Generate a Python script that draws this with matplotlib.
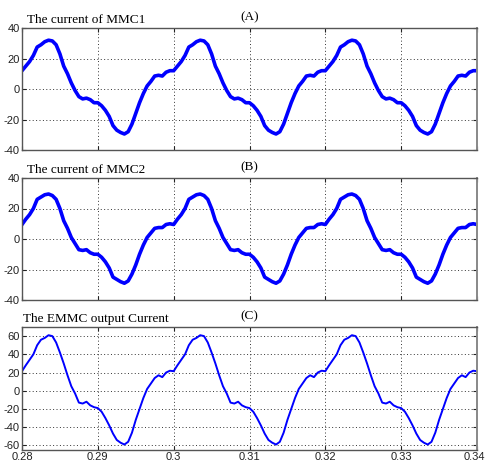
import numpy as np
import matplotlib
matplotlib.use("Agg")
import matplotlib.pyplot as plt

plt.rcParams['axes.unicode_minus'] = False

# time axis (s), sampled every 0.5 ms
t = np.round(np.arange(0.28, 0.34 + 1e-9, 0.0005), 4)

# one period, repeated three times as drawn
mmc1_period = [12, 15, 18, 22, 27.5, 29, 31, 32, 31.5, 29,
               23, 15, 10, 4, -1, -5, -6.5, -6, -7, -9,
               -9, -11, -14, -18, -24, -27, -28.5, -29.5, -28, -23,
               -16, -9, -3, 2, 5, 8.5, 9, 8.5, 11, 12]
mmc2_period = [9.5, 13, 16, 20, 26, 27.5, 29, 29.5, 28.5, 26,
               20, 12, 7, 1, -3, -7, -7.5, -7, -9, -10,
               -10, -12, -15, -19, -25, -26.5, -28, -29, -27.5, -23,
               -17, -10, -4, 1, 4, 7, 7.5, 7.5, 9.5, 10]
emmc_period = [21.5, 28, 34, 40, 50, 56, 58, 61, 60, 53,
               42, 30, 17, 5, -3, -13, -14, -12, -16, -18,
               -19, -23, -30, -38, -47, -54, -57, -59, -56, -46,
               -32, -20, -8, 2, 8, 14, 17, 15, 20, 22]

mmc1 = mmc1_period * 3 + [12]
mmc2 = mmc2_period * 3 + [9.5]
emmc = emmc_period * 3 + [21.5]

titles = ["The current of MMC1", "The current of MMC2", "The EMMC output Current"]
tags = ["(A)", "(B)", "(C)"]
xticks = [0.28, 0.29, 0.3, 0.31, 0.32, 0.33, 0.34]
xticklabels = ["0.28", "0.29", "0.3", "0.31", "0.32", "0.33", "0.34"]

fig = plt.figure(figsize=(4.86, 4.66), dpi=100)
W, H = 486.0, 466.0
boxes = [(28, 150), (178, 300), (327, 450)]
series = [mmc1, mmc2, emmc]
ylims = [(-40, 40), (-40, 40), (-65, 70)]
yticks = [[-40, -20, 0, 20, 40], [-40, -20, 0, 20, 40], [-60, -40, -20, 0, 20, 40, 60]]
lws = [2.6, 2.6, 1.4]
title_x = [0.011, 0.011, 0.002]

for i in range(3):
    top, bot = boxes[i]
    ax = fig.add_axes([22 / W, 1 - bot / H, (477 - 22) / W, (bot - top) / H])
    ax.plot(t, series[i], color='#0000ff', lw=lws[i], solid_joinstyle='round')
    ax.set_xlim(0.28, 0.34)
    ax.set_ylim(*ylims[i])
    ax.set_xticks(xticks)
    ax.set_yticks(yticks[i])
    if i == 2:
        # last label is drawn separately so it stays inside the figure
        ax.set_xticklabels(xticklabels[:-1] + [""], fontsize=8, family='Liberation Sans')
        ax.annotate(xticklabels[-1], xy=(1, 0), xycoords='axes fraction',
                    xytext=(6, -1.5), textcoords='offset points', ha='right', va='top',
                    fontsize=8, family='Liberation Sans', color='#222222')
    else:
        ax.set_xticklabels([])
    ax.set_yticklabels([str(v) for v in yticks[i]], fontsize=8, family='Liberation Sans')
    ax.tick_params(direction='in', length=3, width=0.8, top=True, right=True, pad=1.5, colors='#222222')
    ax.grid(True, linestyle=(0, (1, 2.5)), color='#333333', lw=0.7)
    for s in ax.spines.values():
        s.set_color('#555555')
        s.set_linewidth(1.0)
    ax.spines['right'].set_linewidth(1.4)
    ax.spines['right'].set_color('#888888')
    ax.text(title_x[i], 1.015, titles[i], transform=ax.transAxes, fontsize=9.5,
            family='Liberation Serif', ha='left', va='bottom')
    ax.text(0.5, 1.04, tags[i], transform=ax.transAxes, fontsize=9.5,
            family='Liberation Serif', ha='center', va='bottom')

fig.savefig("out.png", dpi=100)
